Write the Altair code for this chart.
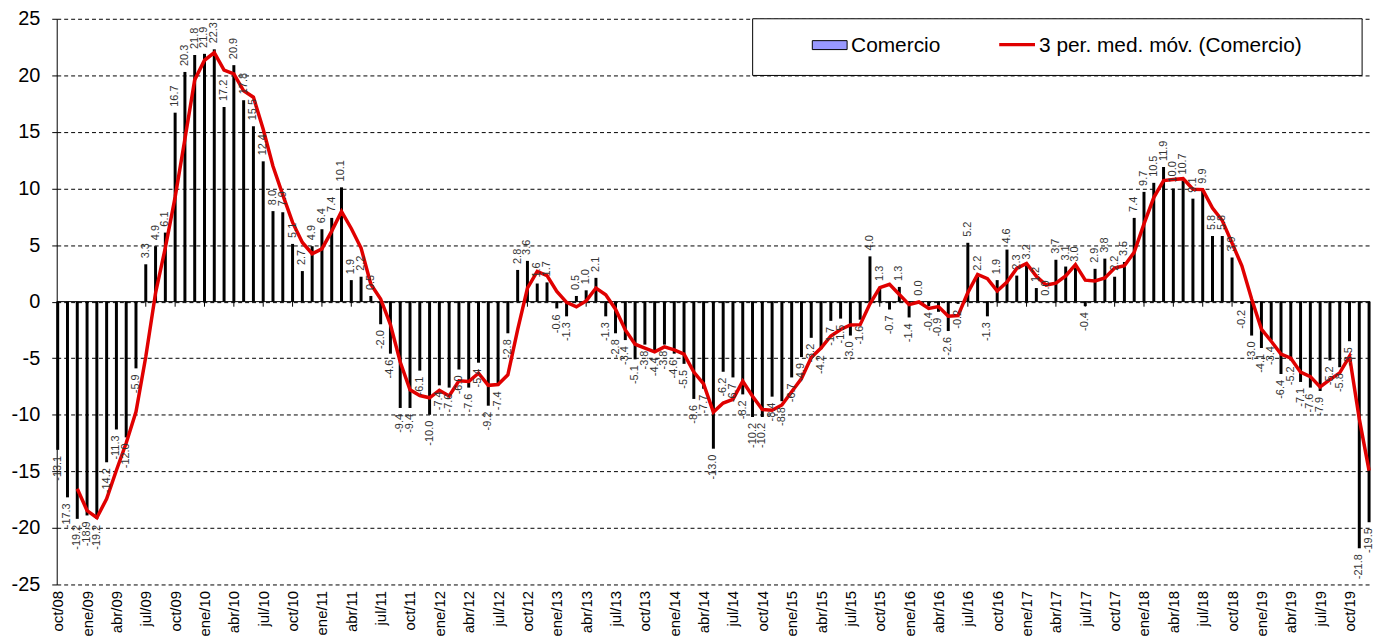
import altair as alt
import pandas as pd

# ---- data -------------------------------------------------------------
abrev = ["ene", "feb", "mar", "abr", "may", "jun", "jul", "ago", "sep", "oct", "nov", "dic"]
meses = [f"{abrev[m]}/{y % 100:02d}" for y in range(2008, 2020) for m in range(12) if (y, m) >= (2008, 9)]

comercio = [
    -13.1, -17.3, -19.2,                                                         # 2008 oct-dic
    -18.9, -19.2, -14.2, -11.3, -12.0, -5.9, 3.3, 4.9, 6.1, 16.7, 20.3, 21.8,    # 2009
    21.9, 22.3, 17.2, 20.9, 17.8, 15.5, 12.4, 8.0, 7.9, 5.1, 2.7, 4.9,           # 2010
    6.4, 7.4, 10.1, 1.9, 2.2, 0.5, -2.0, -4.6, -9.4, -9.4, -6.1, -10.0,          # 2011
    -7.4, -7.6, -6.0, -7.6, -5.4, -9.2, -7.4, -2.8, 2.8, 3.6, 1.6, 1.7,          # 2012
    -0.6, -1.3, 0.5, 1.0, 2.1, -1.3, -2.8, -3.4, -5.1, -3.8, -4.4, -3.8,         # 2013
    -4.6, -5.5, -8.6, -7.7, -13.0, -6.2, -6.7, -8.2, -10.2, -10.2, -8.4, -8.8,   # 2014
    -6.7, -4.9, -3.2, -4.2, -1.7, -1.5, -3.0, -1.6, 4.0, 1.3, -0.7, 1.3,         # 2015
    -1.4, 0.0, -0.4, -0.9, -2.6, -0.2, 5.2, 2.2, -1.3, 1.9, 4.6, 2.3,            # 2016
    3.2, 1.2, 0.0, 3.7, 3.1, 3.0, -0.4, 2.9, 3.8, 2.2, 3.5, 7.4,                 # 2017
    9.7, 10.5, 11.9, 10.0, 10.7, 9.1, 9.9, 5.8, 5.8, 3.9, -0.2, -3.0,            # 2018
    -4.1, -3.4, -6.4, -5.2, -7.1, -7.6, -7.9, -5.2, -5.8, -3.5, -21.8, -19.5,    # 2019
]

meses_eje = meses[::3]
y_ticks = [-25, -20, -15, -10, -5, 0, 5, 10, 15, 20, 25]
serie_barras = "Comercio"
serie_linea = "3 per. med. móv. (Comercio)"

df = pd.DataFrame({"i": list(range(len(meses))), "mes": meses, "valor": comercio})
df["etiqueta"] = [f"{v:.1f}" for v in comercio]
df_ticks = pd.DataFrame({"mes": meses_eje})

FONT = "Liberation Sans"
RED = "#E00000"

X_AXIS = alt.Axis(values=meses_eje, labelAngle=-90, domain=False, ticks=False,
                  grid=False, labelFontSize=15, labelPadding=6, title=None,
                  labelColor="black", labelFont=FONT, labelOverlap=False)
Y_AXIS = alt.Axis(values=y_ticks, grid=True, gridColor="black", gridDash=[4, 3],
                  gridWidth=1, gridOpacity=1, domainColor="black", tickColor="black",
                  tickSize=5, labelFontSize=20, labelPadding=12, title=None,
                  labelColor="black", labelFont=FONT, labelExpr="toString(datum.value)")
X_SCALE = alt.Scale(type="point", padding=0.1)
Y_SCALE = alt.Scale(domain=[-25, 25], nice=False, zero=False)


def xe():
    return alt.X("mes:O", sort=meses, scale=X_SCALE, axis=X_AXIS)


def ye(field):
    return alt.Y(field, scale=Y_SCALE, axis=Y_AXIS)


barras = alt.Chart(df).mark_rule(strokeWidth=3, color="black", strokeCap="butt").encode(
    x=xe(), y=ye("valor:Q"), y2=alt.datum(0),
)

cero = alt.Chart(pd.DataFrame({"valor": [0]})).mark_rule(color="black", strokeWidth=1).encode(
    y=ye("valor:Q")
)

marcas = alt.Chart(df_ticks).mark_rule(color="black", strokeWidth=1).encode(
    x=xe(), y=alt.datum(0), y2=alt.datum(-0.45)
)

linea = alt.Chart(df).transform_window(
    ma="mean(valor)", frame=[-2, 0], sort=[alt.SortField("i")]
).transform_filter("datum.i >= 2").mark_line(color=RED, strokeWidth=3.5).encode(
    x=xe(), y=ye("ma:Q"), order="i:Q"
)

txt_pos = alt.Chart(df).transform_filter("datum.valor >= 0").mark_text(
    angle=270, align="left", baseline="middle", dx=6, fontSize=11, color="#333333", font=FONT
).encode(x=xe(), y=ye("valor:Q"), text="etiqueta:N")

txt_neg = alt.Chart(df).transform_filter("datum.valor < 0").mark_text(
    angle=270, align="right", baseline="middle", dx=-6, fontSize=11, color="#333333", font=FONT
).encode(x=xe(), y=ye("valor:Q"), text="etiqueta:N")

# ---- legend (boxed, top right) ---------------------------------------
ley = alt.Chart(pd.DataFrame({"a": [serie_barras], "b": [serie_linea]}))
ley_caja = ley.mark_rect(fill="white", stroke="black", strokeWidth=1).encode(
    x=alt.value(700), x2=alt.value(1313), y=alt.value(0), y2=alt.value(57))
ley_sw = ley.mark_rect(fill="#9999FF", stroke="black", strokeWidth=1).encode(
    x=alt.value(760), x2=alt.value(795), y=alt.value(22), y2=alt.value(31))
ley_t1 = ley.mark_text(align="left", baseline="middle", fontSize=21, font=FONT, color="black").encode(
    x=alt.value(799), y=alt.value(27), text="a:N")
ley_ln = ley.mark_rule(color=RED, strokeWidth=3.5).encode(
    x=alt.value(948), x2=alt.value(984), y=alt.value(26))
ley_t2 = ley.mark_text(align="left", baseline="middle", fontSize=21, font=FONT, color="black").encode(
    x=alt.value(988), y=alt.value(27), text="b:N")

chart = alt.layer(
    barras, cero, marcas, linea, txt_pos, txt_neg,
    ley_caja, ley_sw, ley_t1, ley_ln, ley_t2
).properties(
    width=1321, height=569,
    autosize=alt.AutoSizeParams(type="none"),
    padding={"left": 49, "top": 9, "right": 9, "bottom": 50},
).configure(font=FONT, view=alt.ViewConfig(strokeWidth=0))

chart.save("out.html", embed_options={"renderer": "svg", "actions": False})
